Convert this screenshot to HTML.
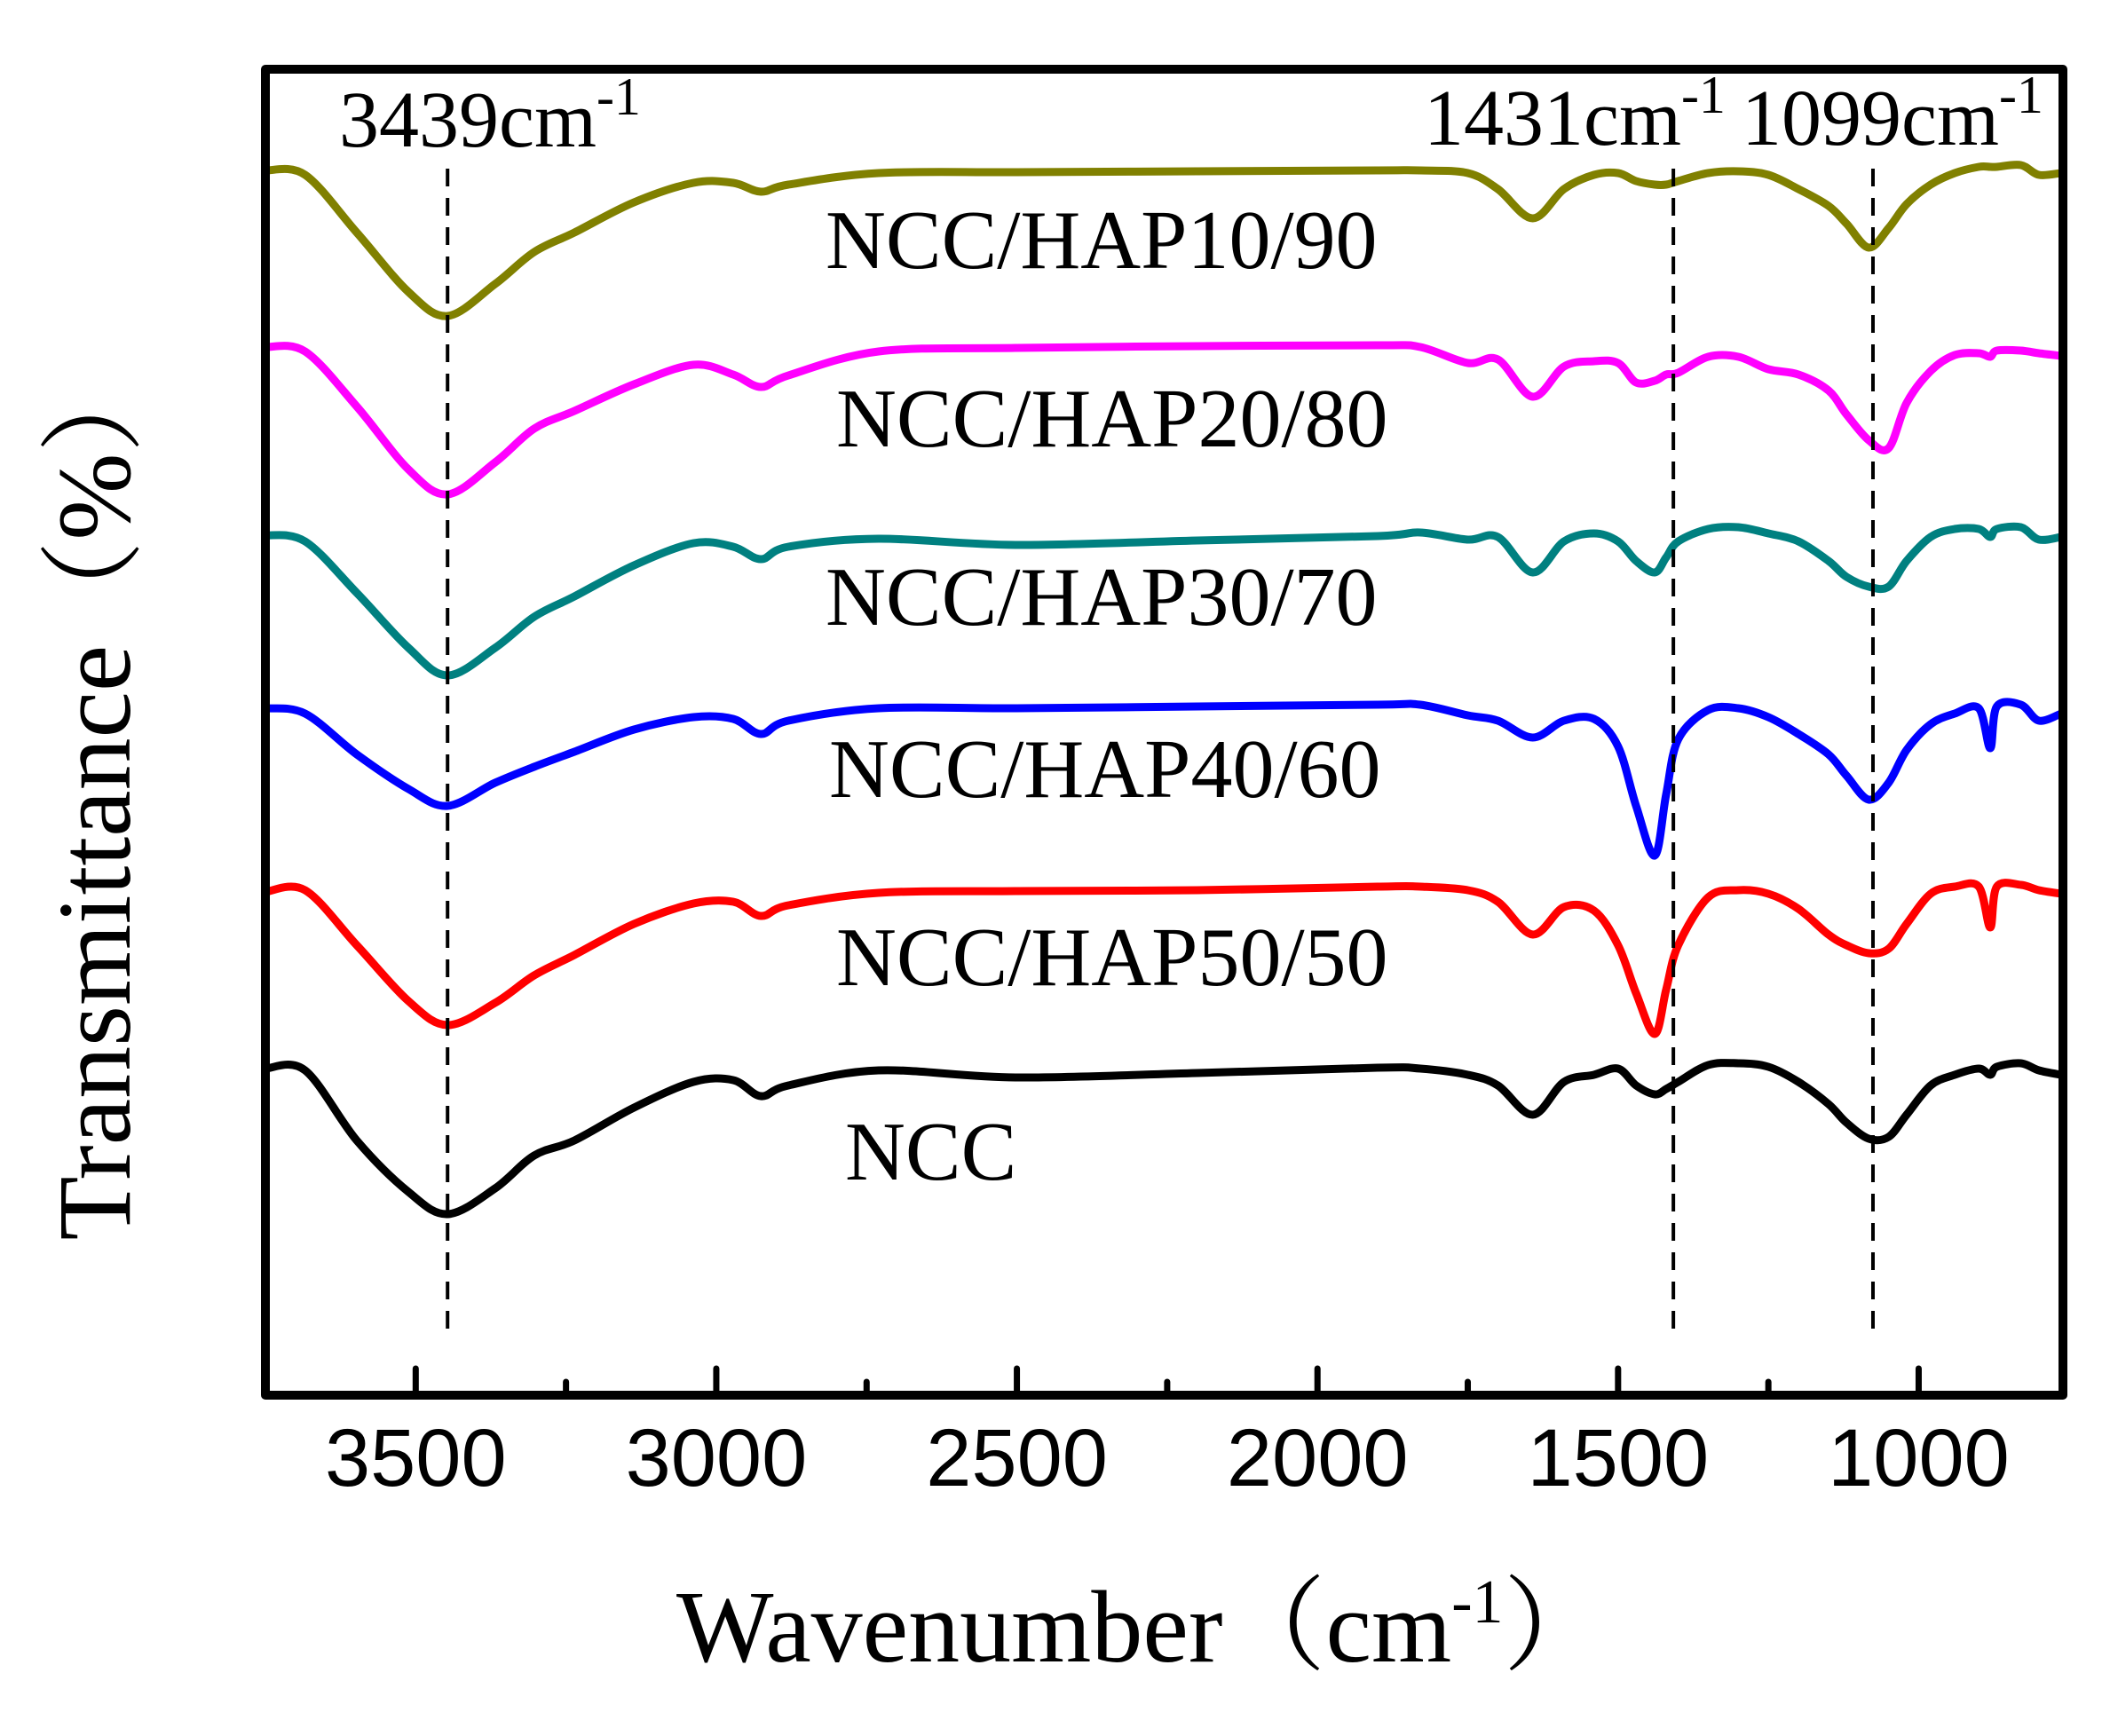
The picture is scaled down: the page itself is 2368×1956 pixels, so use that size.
<!DOCTYPE html>
<html><head><meta charset="utf-8">
<style>
html,body{margin:0;padding:0;background:#fff;}
svg{display:block;}
</style></head>
<body>
<svg id="chart" width="2368" height="1956" viewBox="0 0 2368 1956" xmlns="http://www.w3.org/2000/svg">
  <rect width="2368" height="1956" fill="#fff"/>
  <g id="series"></g>
  <g id="guides"></g>
  <rect x="299" y="78" width="2025" height="1494" fill="none" stroke="#000" stroke-width="10" stroke-linejoin="round"/>
  <g id="ticks"></g>
  <g id="labels" font-family="'Liberation Serif', 'Noto Serif CJK SC', serif" font-size="94" fill="#000">
    <text x="930" y="302">NCC/HAP10/90</text>
    <text x="942" y="503">NCC/HAP20/80</text>
    <text x="930" y="704">NCC/HAP30/70</text>
    <text x="934" y="898">NCC/HAP40/60</text>
    <text x="942" y="1110">NCC/HAP50/50</text>
    <text x="952" y="1329">NCC</text>
    <g font-size="90">
    <text x="382" y="165">3439cm<tspan dy="-36" font-size="60">-1</tspan></text>
    <text x="1604" y="163">1431cm<tspan dy="-36" font-size="60">-1</tspan></text>
    <text x="1962" y="163">1099cm<tspan dy="-36" font-size="60">-1</tspan></text>
    </g>
  </g>
  <text x="762" y="1872" font-family="'Liberation Serif', 'Noto Serif CJK SC', serif" font-size="116">Wavenumber（cm<tspan dy="-44" font-size="70">-1</tspan><tspan dy="44">）</tspan></text>
  <text transform="translate(146,895) rotate(-90)" text-anchor="middle" font-family="'Liberation Serif', 'Noto Serif CJK SC', serif" font-size="118">Transmittance（%）</text>
</svg>
<script>
const wavenumbers = [3750,3684,3598,3512,3447,3368,3303,3236,3137,3038,2972,2926,2880,2730,2500,2200,1900,1829,1750,1700,1642,1590,1540,1500,1470,1439,1420,1400,1350,1300,1250,1200,1150,1120,1083,1050,1020,980,940,900,881,870,830,800,763];
const hap10 = [139.0,138.5,132.0,125.3,122.6,126.2,129.8,132.0,135.4,137.6,137.6,136.6,137.4,138.7,138.8,138.9,139.0,139.0,138.7,136.9,133.6,136.9,138.5,138.7,137.8,137.4,137.4,137.8,138.7,138.9,138.5,136.9,135.0,133.0,130.3,132.5,135.2,137.4,138.7,139.4,139.4,139.4,139.6,138.5,138.7];
const hap20 = [119.1,118.6,112.4,105.3,102.5,106.1,109.9,111.9,114.9,117.1,116.0,114.6,115.9,118.6,119.0,119.2,119.3,119.1,117.3,117.7,113.5,116.9,117.5,117.3,115.1,115.3,116.0,116.2,118.0,118.0,116.6,116.0,114.2,111.5,108.6,107.7,112.8,116.4,118.2,118.4,118.0,118.7,118.7,118.4,118.1];
const hap30 = [97.9,97.2,91.4,85.2,82.1,85.2,88.7,91.0,94.5,97.0,96.6,95.2,96.6,97.5,96.8,97.3,97.8,98.2,97.4,97.7,93.7,97.2,98.1,97.2,95.0,93.7,95.4,97.2,98.6,98.8,98.1,97.2,95.0,93.2,92.1,92.1,95.0,97.7,98.6,98.6,97.7,98.6,98.8,97.4,97.7];
const hap40 = [78.4,77.8,73.2,69.3,67.4,70.0,71.8,73.5,76.0,77.4,77.2,75.5,77.0,78.4,78.4,78.6,78.8,78.8,77.6,77.0,75.1,77.0,77.2,74.1,67.4,61.8,68.7,74.9,78.2,78.4,77.4,75.5,73.2,70.8,68.1,70.0,73.7,76.6,77.8,78.4,73.9,78.6,78.8,77.0,77.8];
const hap50 = [57.7,57.9,51.7,45.4,42.7,45.2,48.3,50.6,54.1,56.4,56.6,55.0,56.2,57.6,57.8,57.9,58.3,58.3,57.9,56.6,52.9,56.0,55.6,51.7,46.3,41.7,46.7,51.7,57.1,57.9,57.5,55.8,52.9,51.7,50.8,51.3,54.1,57.5,58.3,58.3,53.7,58.3,58.5,57.9,57.5];
const ncc = [37.8,37.6,29.7,23.9,21.4,24.3,28.0,29.7,33.4,36.3,36.5,34.7,35.9,37.6,36.8,37.3,37.9,37.8,37.1,35.9,32.6,36.3,37.1,37.8,35.9,34.9,35.5,36.3,38.2,38.4,38.0,36.3,33.8,31.7,29.9,30.1,32.6,35.9,37.1,37.8,37.1,38.0,38.4,37.6,37.1];
const seriesNames = ["ncc-hap-10-90","ncc-hap-20-80","ncc-hap-30-70","ncc-hap-40-60","ncc-hap-50-50","ncc"];
const seriesColors = ["#808000","#ff00ff","#008080","#0000ff","#ff0000","#000000"];
const xTickValues = [3500,3000,2500,2000,1500,1000];
const xTickLabels = ["3500","3000","2500","2000","1500","1000"];
const xMinorValues = [3750,3250,2750,2250,1750,1250];
const peakLines = [3447,1408,1076];

const X0=299,X1=2324,W0=3750,W1=760;
const Y0=1572,Y1=78,T0=1,T1=150.4;
function xs(w){return X0+(W0-w)*(X1-X0)/(W0-W1);}
function ys(t){return Y0-(t-T0)*(Y0-Y1)/(T1-T0);}
const NS="http://www.w3.org/2000/svg";

function smoothPath(pts){
  let d="M"+pts[0][0].toFixed(1)+","+pts[0][1].toFixed(1);
  for(let i=0;i<pts.length-1;i++){
    const p0=pts[Math.max(0,i-1)],p1=pts[i],p2=pts[i+1],p3=pts[Math.min(pts.length-1,i+2)];
    const c1x=p1[0]+(p2[0]-p0[0])/6,c1y=p1[1]+(p2[1]-p0[1])/6;
    const c2x=p2[0]-(p3[0]-p1[0])/6,c2y=p2[1]-(p3[1]-p1[1])/6;
    d+=" C"+c1x.toFixed(1)+","+c1y.toFixed(1)+" "+c2x.toFixed(1)+","+c2y.toFixed(1)+" "+p2[0].toFixed(1)+","+p2[1].toFixed(1);
  }
  return d;
}

const allSeries=[hap10,hap20,hap30,hap40,hap50,ncc];
const sg=document.getElementById("series");
allSeries.forEach(function(vals,k){
  const pts=wavenumbers.map(function(w,i){return [xs(w),ys(vals[i])];});
  const p=document.createElementNS(NS,"path");
  p.setAttribute("d",smoothPath(pts));
  p.setAttribute("fill","none");
  p.setAttribute("stroke",seriesColors[k]);
  p.setAttribute("stroke-width","9");
  p.setAttribute("stroke-linejoin","round");
  p.setAttribute("stroke-linecap","round");
  
  
  sg.appendChild(p);
});

const gg=document.getElementById("guides");
peakLines.forEach(function(w){
  const l=document.createElementNS(NS,"line");
  l.setAttribute("x1",xs(w));l.setAttribute("x2",xs(w));
  l.setAttribute("y1",190);l.setAttribute("y2",1503);
  l.setAttribute("stroke","#000");l.setAttribute("stroke-width","4");
  l.setAttribute("stroke-dasharray","20 13");
  
  
  gg.appendChild(l);
});

const tg=document.getElementById("ticks");
xTickValues.forEach(function(w,i){
  const l=document.createElementNS(NS,"line");
  l.setAttribute("x1",xs(w));l.setAttribute("x2",xs(w));
  l.setAttribute("y1",Y0);l.setAttribute("y2",Y0-30);
  l.setAttribute("stroke","#000");l.setAttribute("stroke-width","7");l.setAttribute("stroke-linecap","round");
  
  
  tg.appendChild(l);
  const t=document.createElementNS(NS,"text");
  t.setAttribute("x",xs(w));t.setAttribute("y",1674);
  t.setAttribute("text-anchor","middle");
  t.setAttribute("font-family","'Liberation Sans', sans-serif");
  t.setAttribute("font-size","92");
  t.textContent=xTickLabels[i];
  
  
  tg.appendChild(t);
});
xMinorValues.forEach(function(w){
  if(w>=W0) return;
  const l=document.createElementNS(NS,"line");
  l.setAttribute("x1",xs(w));l.setAttribute("x2",xs(w));
  l.setAttribute("y1",Y0);l.setAttribute("y2",Y0-15);
  l.setAttribute("stroke","#000");l.setAttribute("stroke-width","7");l.setAttribute("stroke-linecap","round");
  
  
  tg.appendChild(l);
});
</script>
</body></html>
